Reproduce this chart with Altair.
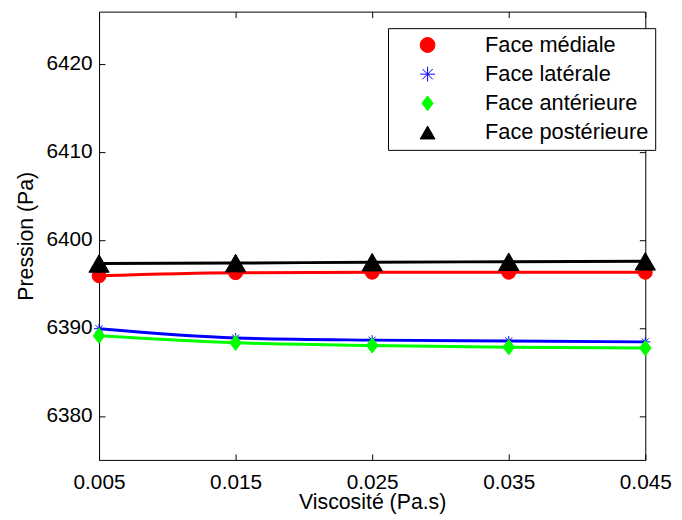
import altair as alt
import pandas as pd

# ---- data ----
viscosity = [0.005, 0.015, 0.025, 0.035, 0.045]
series = ["Face médiale", "Face latérale", "Face antérieure", "Face postérieure"]
p_mediale = [6395.9, 6396.25, 6396.3, 6396.3, 6396.3]
p_laterale = [6389.9, 6388.85, 6388.6, 6388.5, 6388.4]
p_anterieure = [6389.1, 6388.3, 6388.0, 6387.8, 6387.7]
p_posterieure = [6397.3, 6397.35, 6397.45, 6397.5, 6397.55]
x_ticks = [0.005, 0.015, 0.025, 0.035, 0.045]
y_ticks = [6380, 6390, 6400, 6410, 6420]

# ---- styles ----
line_colors = ["#ff0000", "#0000ff", "#00ff00", "#000000"]
fill_colors = ["#ff0000", "transparent", "#00ff00", "#000000"]
asterisk = "M-1,0L1,0M0,-1L0,1M-0.7,-0.7L0.7,0.7M-0.7,0.7L0.7,-0.7"
diamond = "M-0.75,0L0,-1L0.75,0L0,1Z"
shapes = ["circle", asterisk, diamond, "triangle-up"]
sizes = [196, 100, 240, 420]
FONT = "Liberation Sans"

rows = []
for name, vals, sz in zip(series, [p_mediale, p_laterale, p_anterieure, p_posterieure], sizes):
    for xv, yv in zip(viscosity, vals):
        rows.append({"series": name, "x": xv, "p": yv, "sz": sz})
df = pd.DataFrame(rows)

xdom = [0.005, 0.045]
ydom = [6375, 6425.9]
xscale = alt.Scale(domain=xdom, nice=False, zero=False)
yscale = alt.Scale(domain=ydom, nice=False, zero=False)

x_axis = alt.Axis(values=x_ticks, format=".3f", title="Viscosité (Pa.s)",
                  orient="bottom", offset=-6, tickSize=6, tickColor="black",
                  domain=False, labelFlush=False, labelOverlap=False,
                  labelPadding=11.5, labelFont=FONT, labelFontSize=21,
                  labelColor="black", titleFont=FONT, titleFontSize=21.5,
                  titleFontWeight="normal", titleColor="black", titlePadding=0,
                  grid=False)
y_axis = alt.Axis(values=y_ticks, format="d", title="Pression (Pa)",
                  orient="left", offset=-6, tickSize=6, tickColor="black",
                  domain=False, labelOverlap=False, labelPadding=7,
                  labelFont=FONT, labelFontSize=21, labelColor="black",
                  titleFont=FONT, titleFontSize=21.5, titleFontWeight="normal",
                  titleColor="black", titlePadding=9, grid=False)

leg = alt.Legend(title=None, orient="none", legendX=292, legendY=16.7,
                 fillColor="white", strokeColor="black", padding=6,
                 symbolOffset=23, labelOffset=47, rowPadding=7.5,
                 labelFont=FONT, labelFontSize=22, labelColor="black",
                 labelLimit=400, symbolStrokeWidth=1, symbolSize=225)

# line colours: same pairs, domain listed in reverse so this hidden-legend scale
# is not merged with the marker legend
lines = alt.Chart(df).mark_line(strokeWidth=3, interpolate="monotone").encode(
    x=alt.X("x:Q", scale=xscale, axis=x_axis),
    y=alt.Y("p:Q", scale=yscale, axis=y_axis),
    color=alt.Color("series:N", scale=alt.Scale(domain=series[::-1], range=line_colors[::-1]),
                    legend=None),
)

points = alt.Chart(df).mark_point(filled=True, opacity=1, strokeWidth=1).encode(
    x=alt.X("x:Q", scale=xscale, axis=None),
    y=alt.Y("p:Q", scale=yscale, axis=None),
    shape=alt.Shape("series:N", scale=alt.Scale(domain=series, range=shapes), legend=leg),
    fill=alt.Fill("series:N", scale=alt.Scale(domain=series, range=fill_colors), legend=leg),
    stroke=alt.Stroke("series:N", scale=alt.Scale(domain=series, range=line_colors), legend=leg),
    size=alt.Size("sz:Q", scale=None),
)

ghost = alt.Chart(df).mark_point(opacity=0).encode(
    x=alt.X("x:Q", scale=xscale,
            axis=alt.Axis(values=x_ticks, orient="top", offset=-6, tickSize=6,
                          tickColor="black", domain=False, labels=False, title=None,
                          grid=False)),
    y=alt.Y("p:Q", scale=yscale,
            axis=alt.Axis(values=y_ticks, orient="right", offset=-6, tickSize=6,
                          tickColor="black", domain=False, labels=False, title=None,
                          grid=False)),
)

chart = alt.layer(lines, points, ghost).resolve_axis(x="independent", y="independent").properties(
    width=552, height=453,
    autosize=alt.AutoSizeParams(type="none"),
    padding={"left": 92, "top": 1, "right": 29, "bottom": 52},
).configure_view(stroke="black", strokeWidth=1)

chart.save("out.html", embed_options={"renderer": "svg", "actions": False})
